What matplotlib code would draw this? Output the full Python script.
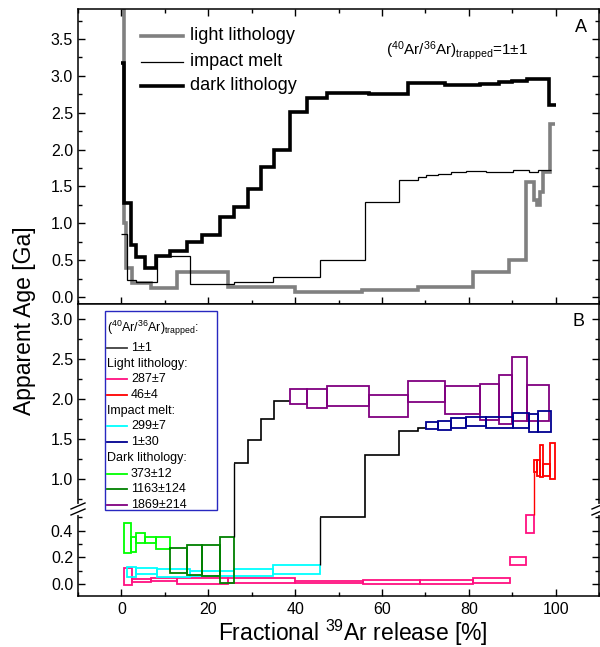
import numpy as np
import matplotlib
matplotlib.use('Agg')
import matplotlib.pyplot as plt
from matplotlib.ticker import MultipleLocator, FormatStrFormatter
from matplotlib.lines import Line2D
from matplotlib.patches import Rectangle

plt.rcParams['font.family'] = ['Liberation Sans', 'DejaVu Sans']
plt.rcParams['mathtext.fontset'] = 'custom'
plt.rcParams['mathtext.rm'] = 'Liberation Sans'
plt.rcParams['mathtext.it'] = 'Liberation Sans:italic'
plt.rcParams['mathtext.bf'] = 'Liberation Sans:bold'
plt.rcParams['axes.linewidth'] = 1.1

# ---- panel A: ages for (40Ar/36Ar)trapped = 1 +- 1 ----
light_edges = [0, 0.5, 1.0, 2.5, 6.7, 12.9, 24.6, 40.0, 55.3, 68.3, 81.0, 89.2,
               93.3, 95.1, 95.7, 96.5, 97.1, 98.6, 99.8]
light_age = [4.5, 1.0, 0.40, 0.19, 0.12, 0.34, 0.13, 0.07, 0.10, 0.13, 0.34,
             0.50, 1.56, 1.32, 1.25, 1.42, 1.70, 2.35]

melt_edges = [0, 1.4, 3.4, 8.3, 15.9, 26.0, 35.0, 45.7, 56.1, 64.0, 68.3, 70.1,
              72.9, 75.9, 79.3, 83.9, 90.3, 93.8, 95.9, 98.9]
melt_age = [0.85, 0.23, 0.20, 0.56, 0.18, 0.20, 0.27, 0.50, 1.29, 1.59, 1.63,
            1.66, 1.67, 1.69, 1.71, 1.70, 1.73, 1.70, 1.73]

dark_edges = [0, 0.6, 2.1, 3.4, 5.5, 8.0, 11.3, 15.0, 18.6, 22.8, 26.0, 29.2,
              32.2, 35.2, 38.9, 42.7, 47.3, 57.0, 65.9, 74.6, 82.5, 86.9, 90.0,
              93.4, 98.5, 100.0]
dark_age = [3.17, 1.27, 0.71, 0.54, 0.39, 0.56, 0.62, 0.74, 0.84, 1.08, 1.22,
            1.47, 1.76, 1.99, 2.51, 2.70, 2.77, 2.75, 2.90, 2.88, 2.89, 2.92,
            2.93, 2.96, 2.61]

# ---- panel B: age ranges (low, high) for other trapped compositions ----
pink_edges = [0.7, 2.5, 6.7, 12.9, 24.6, 40.0, 55.6, 68.7, 80.9, 89.4, 93.3, 95.1]
pink_lo = [-0.01, 0.015, 0.02, 0.0, 0.01, 0.01, 0.0, 0.0, 0.01, 0.14, 0.38]
pink_hi = [0.12, 0.04, 0.045, 0.045, 0.045, 0.02, 0.03, 0.03, 0.045, 0.20, 0.52]

red_edges = [95.1, 95.7, 96.5, 97.1, 98.6, 99.8]
red_lo = [1.09, 1.03, 1.02, 1.03, 1.00]
red_hi = [1.23, 1.24, 1.42, 1.19, 1.45]

cyan_edges = [1.4, 3.4, 8.3, 15.9, 26.0, 35.0, 45.7]
cyan_lo = [0.05, 0.075, 0.05, 0.06, 0.06, 0.075]
cyan_hi = [0.13, 0.12, 0.11, 0.10, 0.11, 0.14]

navy_edges = [70.1, 72.9, 75.9, 79.3, 83.9, 90.3, 93.8, 95.9, 98.9]
navy_lo = [1.63, 1.61, 1.64, 1.66, 1.64, 1.64, 1.59, 1.59]
navy_hi = [1.71, 1.72, 1.76, 1.78, 1.77, 1.83, 1.81, 1.85]

lime_edges = [0.7, 2.1, 3.4, 5.5, 8.0, 11.3]
lime_lo = [0.23, 0.24, 0.31, 0.31, 0.26]
lime_hi = [0.46, 0.35, 0.38, 0.35, 0.35]

green_edges = [11.3, 15.0, 18.6, 22.8, 26.0]
green_lo = [0.08, 0.07, 0.06, 0.01]
green_hi = [0.27, 0.29, 0.29, 0.35]

purple_edges = [38.9, 42.7, 47.3, 57.0, 65.9, 74.6, 82.5, 86.9, 90.0, 93.4, 98.5]
purple_lo = [1.94, 1.89, 1.91, 1.77, 1.96, 1.81, 1.74, 1.69, 1.73, 1.73]
purple_hi = [2.12, 2.12, 2.16, 2.05, 2.23, 2.16, 2.19, 2.30, 2.52, 2.18]

# steps still at 1+-1 in panel B
bdark_edges = [26.0, 29.2, 32.2, 35.2, 38.9]
bdark_age = [1.20, 1.49, 1.75, 1.98]
bmelt_edges = [45.7, 56.1, 64.0, 68.3, 70.1]
bmelt_age = [0.50, 1.30, 1.60, 1.64]

legend_labels = ['1±1', 'Light lithology:', '287±7', '46±4', 'Impact melt:',
                 '299±7', '1±30', 'Dark lithology:', '373±12', '1163±124',
                 '1869±214']

PINK, RED, CYAN, NAVY = '#ff1080', '#ff0000', '#00ffff', '#000090'
LIME, GREEN, PURPLE, GREY = '#00ff00', '#008000', '#800080', '#808080'

W, H = 600, 647
fig = plt.figure(figsize=(6, 6.47), dpi=100)


def rect(x0, y0, x1, y1):
    return [x0 / W, 1 - y1 / H, (x1 - x0) / W, (y1 - y0) / H]


def fx(px):
    return px / W


def fy(py):
    return 1 - py / H


axA = fig.add_axes(rect(78, 9, 599, 304))
axT = fig.add_axes(rect(78, 304, 599, 510), sharex=axA)
axL = fig.add_axes(rect(78, 510, 599, 596), sharex=axA)

# panel A
axA.stairs(light_age, light_edges, baseline=None, color=GREY, lw=2.6)
axA.stairs(melt_age, melt_edges, baseline=None, color='black', lw=0.9)
axA.stairs(dark_age, dark_edges, baseline=None, color='black', lw=2.6)


def boxes(ax, edges, lo, hi, color):
    lo = np.array(lo)
    ax.bar(edges[:-1], np.array(hi) - lo, width=np.diff(edges), bottom=lo,
           align='edge', fill=False, edgecolor=color, linewidth=1.3)


for ax in (axT, axL):
    boxes(ax, pink_edges, pink_lo, pink_hi, PINK)
    ax.vlines(red_edges[0], pink_hi[-1], red_lo[0], color=RED, lw=1.0)
    boxes(ax, red_edges, red_lo, red_hi, RED)
    boxes(ax, cyan_edges, cyan_lo, cyan_hi, CYAN)
    boxes(ax, lime_edges, lime_lo, lime_hi, LIME)
    boxes(ax, green_edges, green_lo, green_hi, GREEN)
    ax.vlines(bdark_edges[0], green_hi[-1], bdark_age[0], color='black', lw=1.0)
    ax.stairs(bdark_age, bdark_edges, baseline=None, color='black', lw=1.2)
    ax.vlines(bmelt_edges[0], cyan_hi[-1], bmelt_age[0], color='black', lw=1.0)
    ax.stairs(bmelt_age, bmelt_edges, baseline=None, color='black', lw=1.2)
    boxes(ax, purple_edges, purple_lo, purple_hi, PURPLE)
    boxes(ax, navy_edges, navy_lo, navy_hi, NAVY)

axA.set_xlim(-10, 110)
axA.set_ylim(-0.095, 3.908)
axT.set_ylim(0.61, 3.19)
axL.set_ylim(-0.09, 0.556)

for ax in (axA, axT, axL):
    ax.xaxis.set_major_locator(MultipleLocator(20))
    ax.xaxis.set_minor_locator(MultipleLocator(10))
    ax.yaxis.set_major_formatter(FormatStrFormatter('%.1f'))
    ax.tick_params(which='both', direction='in', right=True, labelsize=11.5,
                   width=1.0)
    ax.tick_params(which='major', length=5)
    ax.tick_params(which='minor', length=3)

axA.yaxis.set_major_locator(MultipleLocator(0.5))
axA.yaxis.set_minor_locator(MultipleLocator(0.25))
axA.tick_params(which='both', top=True, labelbottom=False)
axT.yaxis.set_major_locator(MultipleLocator(0.5))
axT.yaxis.set_minor_locator(MultipleLocator(0.25))
axT.tick_params(which='both', top=False, bottom=False, labelbottom=False)
axT.spines['bottom'].set_visible(False)
axL.yaxis.set_major_locator(MultipleLocator(0.2))
axL.yaxis.set_minor_locator(MultipleLocator(0.1))
axL.tick_params(which='both', top=False)
axL.spines['top'].set_visible(False)
axL.tick_params(axis='x', pad=4)

# axis break marks
for xs in (78, 599):
    fig.add_artist(Line2D([fx(xs), fx(xs)], [fy(506), fy(513)], color='white',
                          lw=3, transform=fig.transFigure))
    for dy in (0, 6):
        fig.add_artist(Line2D([fx(xs - 7), fx(xs + 7)],
                              [fy(509 + dy), fy(503 + dy)], color='black',
                              lw=1.0, transform=fig.transFigure))

# legend A
for y, lw, c, lab in ((36, 2.6, GREY, 'light lithology'),
                      (62, 0.9, 'black', 'impact melt'),
                      (86, 2.6, 'black', 'dark lithology')):
    fig.add_artist(Line2D([fx(141), fx(183)], [fy(y), fy(y)], color=c, lw=lw,
                          transform=fig.transFigure))
    fig.text(fx(190), fy(y), lab, fontsize=13, va='center', ha='left')

fig.text(fx(457), fy(51), r'($^{40}$Ar/$^{36}$Ar)$_{\rm trapped}$=1±1',
         fontsize=11, ha='center', va='center')
fig.text(fx(581), fy(27), 'A', fontsize=13, ha='center', va='center')
fig.text(fx(578), fy(321), 'B', fontsize=13, ha='center', va='center')

# legend B (drawn by hand, header rows have no line)
fig.add_artist(Rectangle((fx(105), fy(510)), fx(217) - fx(105),
                         fy(311) - fy(510), fill=True, facecolor='white',
                         edgecolor='#2828c0', lw=1.0,
                         transform=fig.transFigure))
fig.text(fx(107), fy(328), r'($^{40}$Ar/$^{36}$Ar)$_{\rm trapped}$:',
         fontsize=9, ha='left', va='center')
leg_colors = ['#404040', None, PINK, RED, None, CYAN, NAVY, None, LIME, GREEN,
              PURPLE]
row_y = [347.7, 364, 379, 395, 410.7, 426, 441.7, 458, 474, 489, 505]
for y, c, lab in zip(row_y, leg_colors, legend_labels):
    if c is None:
        fig.text(fx(107), fy(y), lab, fontsize=9, ha='left', va='center')
    else:
        fig.add_artist(Line2D([fx(107), fx(127)], [fy(y), fy(y)], color=c,
                              lw=1.3, transform=fig.transFigure))
        fig.text(fx(131), fy(y), lab, fontsize=9, ha='left', va='center')

fig.text(fx(25), fy(321), 'Apparent Age [Ga]', fontsize=16.5, rotation=90,
         ha='center', va='center')
fig.text(fx(353), fy(633), r'Fractional $^{39}$Ar release [%]', fontsize=16.5,
         ha='center', va='center')

fig.savefig('out.png', dpi=100)
